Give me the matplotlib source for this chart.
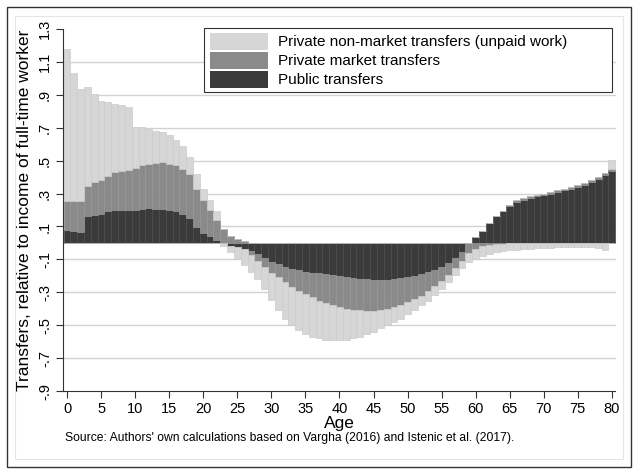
"""Transfers by age relative to income of a full-time worker (Stata-style stacked bars)."""

import matplotlib
matplotlib.use("Agg")
import matplotlib.pyplot as plt
import numpy as np
from matplotlib.patches import Rectangle

plt.rcParams["font.family"] = ["Liberation Sans", "DejaVu Sans"]

C_NONMKT = "#d6d6d6"   # private non-market transfers (unpaid work)
C_MKT = "#8a8a8a"      # private market transfers
C_PUB = "#3b3b3b"      # public transfers

ages = list(range(81))

public = [
    .076, .072, .068, .161, .167, .173, .193, .200, .200, .200,
    .200, .208, .213, .208, .205, .198, .193, .177, .150, .096,
    .062, .039, .020, .005, -.016, -.026, -.035, -.048, -.070, -.090,
    -.115, -.130, -.145, -.157, -.167, -.175, -.180, -.185, -.190, -.196,
    -.201, -.207, -.213, -.218, -.222, -.225, -.225, -.223, -.220, -.215,
    -.210, -.200, -.190, -.178, -.162, -.145, -.120, -.092, -.058, -.008,
    .035, .075, .120, .161, .193, .224, .248, .262, .274, .283,
    .289, .299, .309, .319, .329, .339, .354, .370, .390, .410, .437,
]
market = [
    .176, .180, .184, .185, .203, .207, .214, .228, .238, .245,
    .258, .264, .269, .277, .285, .284, .279, .275, .267, .229,
    .200, .161, .120, .080, .045, .024, .010, -.027, -.040, -.055,
    -.065, -.080, -.095, -.108, -.123, -.135, -.150, -.165, -.175, -.184,
    -.191, -.193, -.193, -.192, -.190, -.187, -.183, -.177, -.170, -.160,
    -.150, -.142, -.132, -.112, -.098, -.085, -.075, -.063, -.052, -.052,
    -.035, -.020, -.012, -.008, -.005, .008, .010, .010, .010, .010,
    .010, .010, .010, .010, .010, .010, .010, .010, .010, .012, .014,
]
nonmarket = [
    .926, .778, .681, .604, .533, .484, .447, .418, .398, .379,
    .246, .232, .208, .195, .183, .173, .153, .138, .106, .096,
    .068, .060, .053, -.020, -.039, -.069, -.100, -.103, -.110, -.135,
    -.165, -.200, -.220, -.235, -.240, -.245, -.240, -.230, -.223, -.212,
    -.201, -.188, -.174, -.160, -.143, -.128, -.112, -.100, -.090, -.085,
    -.075, -.068, -.058, -.060, -.055, -.050, -.045, -.042, -.045, -.058,
    -.062, -.060, -.055, -.050, -.047, -.045, -.042, -.038, -.035, -.032,
    -.030, -.028, -.026, -.025, -.024, -.023, -.023, -.025, -.030, -.045, .055,
]

series = [
    ("Public transfers", public, C_PUB, "#4a4a4a"),
    ("Private market transfers", market, C_MKT, "#959595"),
    ("Private non-market transfers (unpaid work)", nonmarket, C_NONMKT, "#cbcbcb"),
]

yticks = [1.3, 1.1, .9, .7, .5, .3, .1, -.1, -.3, -.5, -.7, -.9]
ytick_labels = ["1.3", "1.1", ".9", ".7", ".5", ".3", ".1",
                "-.1", "-.3", "-.5", "-.7", "-.9"]
xticks = list(range(0, 81, 5))

W, H = 637, 473
fig = plt.figure(figsize=(W / 100, H / 100), dpi=100)

# Stata-like graph region frames
fig.patches.append(Rectangle((7 / W, 1 - 467 / H), 624 / W, 460 / H,
                             transform=fig.transFigure, fill=False,
                             edgecolor="#333333", lw=1.0))
fig.patches.append(Rectangle((15 / W, 1 - 459 / H), 608 / W, 443 / H,
                             transform=fig.transFigure, fill=False,
                             edgecolor="#e6e6e6", lw=0.8))

ax = fig.add_axes([63 / W, 1 - 391 / H, 552.5 / W, 362 / H])

# grid lines (not at the axis ends)
for y in yticks[1:-1]:
    ax.axhline(y, color="#d2d2d2", lw=1.0, zorder=0)

pos_base = np.zeros(len(ages))
neg_base = np.zeros(len(ages))
for name, vals, col, edge in series:
    v = np.array(vals)
    pos = np.clip(v, 0, None)
    neg = np.clip(v, None, 0)
    ax.bar(ages, pos, bottom=pos_base, width=1.0, color=col,
           edgecolor=edge, linewidth=0.5, zorder=2)
    ax.bar(ages, neg, bottom=neg_base, width=1.0, color=col,
           edgecolor=edge, linewidth=0.5, zorder=2)
    pos_base += pos
    neg_base += neg

ax.set_xlim(-0.59, 80.53)
ax.set_ylim(-0.9, 1.3)
ax.set_yticks(yticks)
ax.set_yticklabels(ytick_labels, rotation=90, va="center", fontsize=10.5)
ax.set_xticks(xticks)
ax.set_xticklabels([str(t) for t in xticks], fontsize=10.5)
ax.tick_params(axis="both", length=5, width=0.8, color="#333333", pad=3)
for s in ("top", "right"):
    ax.spines[s].set_visible(False)
for s in ("left", "bottom"):
    ax.spines[s].set_color("#333333")
    ax.spines[s].set_linewidth(0.8)

ax.set_xlabel("Age", fontsize=12.5, labelpad=0)
ax.set_ylabel("Transfers, relative to income of full-time worker",
              fontsize=12.5, labelpad=4)

# legend (Stata-style box, order as in original)
lx0, ly0, lx1, ly1 = 204, 28, 612, 92
fig.patches.append(Rectangle((lx0 / W, 1 - ly1 / H), (lx1 - lx0) / W,
                             (ly1 - ly0) / H, transform=fig.transFigure,
                             facecolor="white", edgecolor="#333333", lw=0.8,
                             zorder=5))
for i, (name, _, col, _) in enumerate(series[::-1]):
    yc = 42 + i * 19
    fig.patches.append(Rectangle((210 / W, 1 - (yc + 8.5) / H), 58 / W,
                                 17 / H, transform=fig.transFigure,
                                 facecolor=col, edgecolor="none", zorder=6))
    fig.text(278 / W, 1 - yc / H, name, fontsize=11, va="center",
             ha="left", zorder=7)

fig.text(65 / W, 1 - 438 / H,
         "Source: Authors' own calculations based on Vargha (2016) and "
         "Istenic et al. (2017).", fontsize=8.7, va="center", ha="left")

fig.savefig("out.png", dpi=100)
